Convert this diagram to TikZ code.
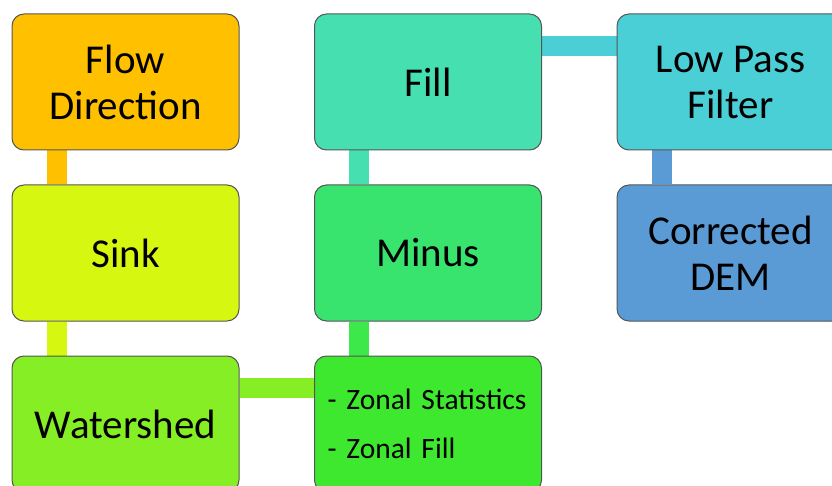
\documentclass[tikz,border=0pt]{standalone}
\usepackage{fontspec}
\setmainfont{Carlito}
\usetikzlibrary{backgrounds}
\definecolor{cFlow}{HTML}{FFC000}
\definecolor{cSink}{HTML}{D6F710}
\definecolor{cWater}{HTML}{86EE24}
\definecolor{cZonal}{HTML}{3EE82E}
\definecolor{cZbar}{HTML}{3CE84A}
\definecolor{cMinus}{HTML}{38E46E}
\definecolor{cFill}{HTML}{46DFAF}
\definecolor{cLow}{HTML}{4BCFD7}
\definecolor{cCorr}{HTML}{5B9BD5}
\definecolor{cEdge}{HTML}{555555}
\tikzset{
  x=1pt, y=-1pt,
  box/.style={draw=cEdge, line width=1pt, rounded corners=12pt, rectangle,
    minimum width=227pt, minimum height=136pt, inner sep=0pt, align=center,
    font=\fontsize{41}{46}\selectfont, text=black},
  zbox/.style={box, text width=201pt, inner xsep=13pt, align=left,
    font=\fontsize{29.5}{49}\selectfont},
  bar/.style={line width=20pt, line cap=butt},
}
\begin{document}
\begin{tikzpicture}
\useasboundingbox (0,0) rectangle (832,486);
\node[box, fill=cFlow]  (flow)  at (125.5,82)  {Flow\\Direction};
\node[box, fill=cSink]  (sink)  at (125.5,253) {Sink};
\node[box, fill=cWater] (water) at (125.5,424) {Watershed};
\node[box, fill=cFill]  (fill)  at (428,82)    {Fill};
\node[box, fill=cMinus] (minus) at (428,253)   {Minus};
\node[zbox, fill=cZonal] (zonal) at (428,424)  {- Zonal Statistics\\- Zonal Fill};
\node[box, fill=cLow]   (low)   at (730.5,82)  {Low Pass\\Filter};
\node[box, fill=cCorr]  (corr)  at (730.5,253) {Corrected\\DEM};
\begin{scope}[on background layer]
  \draw[bar, cFlow]  ([xshift=45pt]flow.south west)  -- ([xshift=45pt]sink.north west);
  \draw[bar, cSink]  ([xshift=45pt]sink.south west)  -- ([xshift=45pt]water.north west);
  \draw[bar, cWater] ([yshift=-32.5pt]water.north east) -- ([yshift=-32.5pt]zonal.north west);
  \draw[bar, cZbar]  ([xshift=45pt]zonal.north west) -- ([xshift=45pt]minus.south west);
  \draw[bar, cFill]  ([xshift=45pt]minus.north west) -- ([xshift=45pt]fill.south west);
  \draw[bar, cLow]   ([yshift=-33pt]fill.north east) -- ([yshift=-33pt]low.north west);
  \draw[bar, cCorr]  ([xshift=45pt]low.south west)   -- ([xshift=45pt]corr.north west);
\end{scope}
\end{tikzpicture}
\end{document}
